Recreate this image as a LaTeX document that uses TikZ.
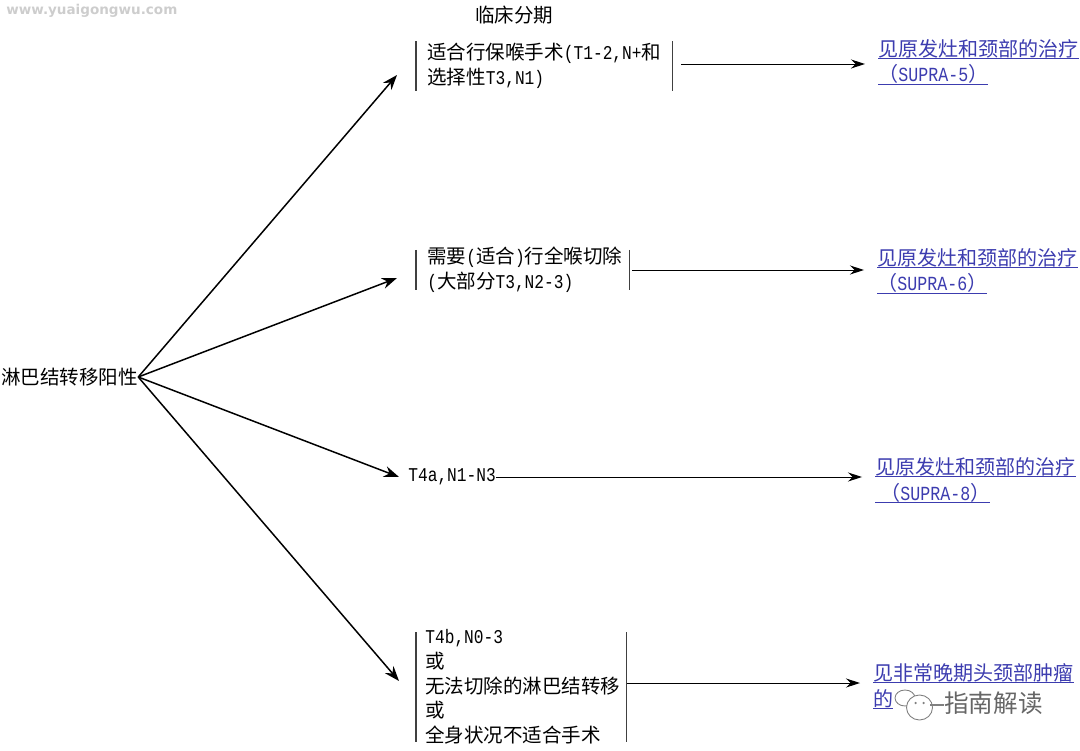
\documentclass[tikz,border=0pt]{standalone}
\usepackage{fontspec}
\setmainfont[FakeStretch=0.83]{Liberation Mono}
\newfontfamily\cjk{Noto Sans CJK SC}
\newfontfamily\markfont{DejaVu Sans}
\newcommand{\zh}[1]{{\cjk #1}}
\newcommand{\lk}[1]{\underline{\smash{#1}}}
\usepackage{tikz}
\usetikzlibrary{arrows.meta,positioning,calc}
\definecolor{linkblue}{RGB}{60,60,175}
\definecolor{markgray}{RGB}{205,205,205}
\tikzset{
  label/.style={inner sep=0pt, anchor=west, align=left, font=\fontsize{11.1pt}{14.1pt}\selectfont},
  linkbox/.style={label, anchor=base west, text=linkblue, font=\fontsize{11.4pt}{14.6pt}\selectfont},
  fan/.style={-{Stealth[length=3mm,width=2.2mm]}, line width=0.85pt},
  flow/.style={-{Stealth[length=2.8mm,width=1.8mm]}, line width=0.55pt, shorten >=0.26cm},
  bar/.style={line width=0.65pt, black!75},
  bubble/.style={gray, fill=white, line width=0.5pt},
}
\begin{document}
\begin{tikzpicture}
    \useasboundingbox (0,0) rectangle (21.6,-15.02);
    % watermark
    \node[inner sep=0pt, anchor=west, text=markgray, font=\fontsize{7.7pt}{9pt}\selectfont\markfont\bfseries] (site) at (0.12,-0.22) {www.yuaigongwu.com};
    % title
    \node[label] (title) at (9.5,-0.3) {\zh{临床分期}};
    % root
    \node[label] (root) at (0.02,-7.54) {\zh{淋巴结转移阳性}};
    % stages
    \node[label, minimum height=0.98cm] (stageA) at (8.54,-1.32)
      {\zh{适合行保喉手术}(T1-2,N+\zh{和}\\\zh{选择性}T3,N1)};
    \node[label, minimum height=0.8cm] (stageB) at (8.54,-5.4)
      {\zh{需要}(\zh{适合})\zh{行全喉切除}\\(\zh{大部分}T3,N2-3)};
    \node[label] (stageC) at (8.16,-9.54) {T4a,N1-N3};
    \node[label, minimum height=2.16cm] (stageD) at (8.5,-13.74)
      {T4b,N0-3\\\zh{或}\\\zh{无法切除的淋巴结转移}\\\zh{或}\\\zh{全身状况不适合手术}};
    % fan ends
    \coordinate (inA) at (7.94,-1.5);
    \coordinate (inB) at (7.94,-5.56);
    \coordinate (inC) at (7.98,-9.54);
    \coordinate (inD) at (7.98,-13.62);
    \draw[fan] (root.east) -- (inA);
    \draw[fan] (root.east) -- (inB);
    \draw[fan] (root.east) -- (inC);
    \draw[fan] (root.east) -- (inD);
    % bars
    \foreach \s/\l/\r/\v in {stageA/0.22/0.22/0,stageB/0.22/0.14/0.06,stageD/0.18/0.12/0.06}{
      \draw[bar] ($(\s.north west)+(-\l,-\v)$) -- ($(\s.south west)+(-\l,\v)$);
      \draw[bar] ($(\s.north east)+(\r,-\v)$) -- ($(\s.south east)+(\r,\v)$);
    }
    % links
    \node[linkbox] (linkA) at (17.56,-1.64) {\lk{\zh{见原发灶和颈部的治疗}}\\\lk{\zh{（}SUPRA-5\zh{）}}};
    \node[linkbox] (linkB) at (17.54,-5.82) {\lk{\zh{见原发灶和颈部的治疗}}\\\lk{\zh{（}SUPRA-6\zh{）}}};
    \node[linkbox] (linkC) at (17.5,-10.0) {\lk{\zh{见原发灶和颈部的治疗}}\\\lk{\hspace{0.25em}\zh{（}SUPRA-8\zh{）}}};
    \node[linkbox] (linkD) at (17.46,-14.12) {\lk{\zh{见非常晚期头颈部肿瘤}}\\\lk{\zh{的}}};
    % outgoing
    \coordinate (outA) at (13.62,-1.28);
    \coordinate (outB) at (12.64,-5.4);
    \coordinate (outD) at (12.54,-13.66);
    \draw[flow] (outA) -- (outA -| linkA.west);
    \draw[flow] (outB) -- (outB -| linkB.west);
    \draw[flow] (stageC.east) -- (stageC.east -| linkC.west);
    \draw[flow] (outD) -- (outD -| linkD.west);
    % wechat mark
    \draw[bubble] (18.1,-13.96) ellipse (0.2 and 0.16);
    \draw[bubble] (18.39,-14.15) ellipse (0.26 and 0.25);
    \fill[gray] (18.31,-14.06) circle (0.025) (18.47,-14.06) circle (0.025);
    \draw[gray, line width=0.7pt] (18.6,-14.1) -- (18.88,-14.1);
    \node[label, text=black!60, font=\fontsize{14pt}{16pt}\selectfont] (mark) at (18.88,-14.06) {\zh{指南解读}};
  \end{tikzpicture}
\end{document}
